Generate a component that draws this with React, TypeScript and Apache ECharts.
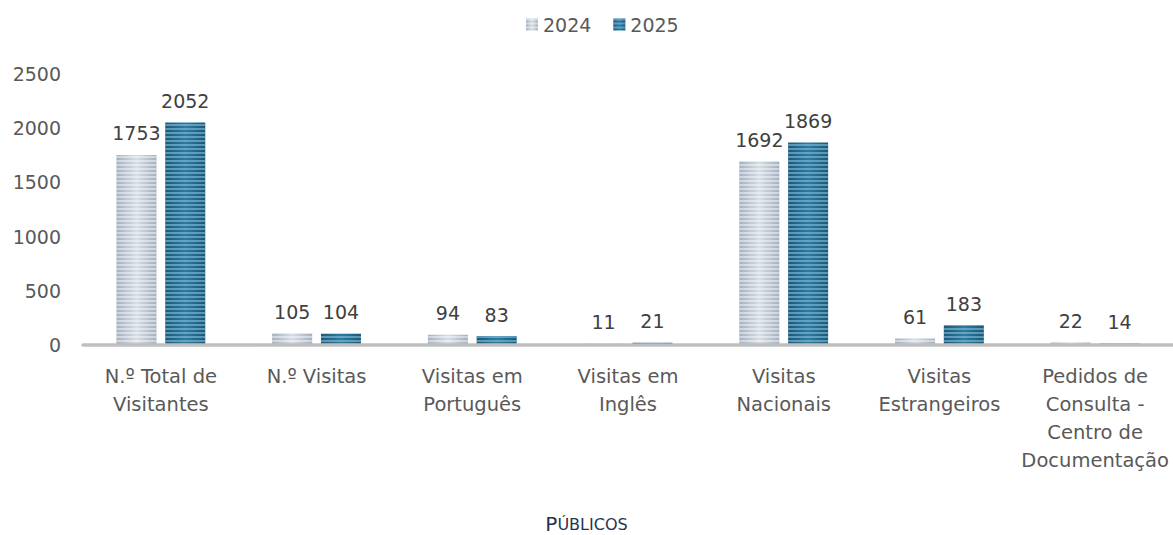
import React, { useEffect, useRef } from "react";
import * as echarts from "echarts";

const categories = [
  "N.º Total de\nVisitantes",
  "N.º Visitas",
  "Visitas em\nPortuguês",
  "Visitas em\nInglês",
  "Visitas\nNacionais",
  "Visitas\nEstrangeiros",
  "Pedidos de\nConsulta -\nCentro de\nDocumentação",
];
const values2024 = [1753, 105, 94, 11, 1692, 61, 22];
const values2025 = [2052, 104, 83, 21, 1869, 183, 14];
const seriesNames = ["2024", "2025"];
const yTicks = { min: 0, max: 2500, interval: 500 };

const FONT = "DejaVu Sans";

export default function App() {
  const ref = useRef<HTMLDivElement>(null);
  useEffect(() => {
    document.body.style.margin = "0";
    const chart = echarts.init(ref.current!, null, { renderer: "svg" });
    const grad = (edge: string, mid: string) =>
      new echarts.graphic.LinearGradient(0, 0, 1, 0, [
        { offset: 0, color: edge },
        { offset: 0.5, color: mid },
        { offset: 1, color: edge },
      ]);
    const label = {
      show: true,
      position: "top",
      distance: 12,
      fontFamily: FONT,
      fontSize: 19,
      color: "#404040",
    };
    chart.setOption({
      animation: false,
      textStyle: { fontFamily: FONT },
      legend: {
        top: 10,
        left: 521,
        icon: "rect",
        itemWidth: 12,
        itemHeight: 12,
        itemGap: 22,
        textStyle: { fontFamily: FONT, fontSize: 19, color: "#595959" },
        data: seriesNames,
      },
      title: {
        text: "{a|P}{b|ÚBLICOS}",
        left: "center",
        top: 509,
        textStyle: {
          fontWeight: "normal",
          rich: {
            a: { fontFamily: FONT, fontSize: 20, fontWeight: "normal", color: "#1f3550" },
            b: { fontFamily: FONT, fontSize: 16, fontWeight: "normal", color: "#1f3550" },
          },
        },
      },
      grid: { left: 83, right: 0, top: 74, bottom: 190 },
      xAxis: {
        type: "category",
        data: categories,
        z: 5,
        axisLine: { lineStyle: { color: "#bfbfbf", width: 3.5 } },
        axisTick: { show: false },
        axisLabel: {
          interval: 0,
          margin: 17,
          fontFamily: FONT,
          fontSize: 19.5,
          lineHeight: 28,
          color: "#595959",
        },
      },
      yAxis: {
        type: "value",
        min: yTicks.min,
        max: yTicks.max,
        interval: yTicks.interval,
        splitLine: { show: false },
        axisLine: { show: false },
        axisLabel: {
          fontFamily: FONT,
          fontSize: 19,
          color: "#595959",
          margin: 22,
          formatter: (v: number) => String(v),
        },
      },
      series: [
        {
          name: seriesNames[0],
          type: "bar",
          data: values2024,
          barWidth: 40,
          barGap: "22%",
          label,
          itemStyle: {
            color: grad("#a3b0bf", "#d6dde5"),
            decal: {
              symbol: "rect",
              symbolSize: 1,
              dashArrayX: [1, 0],
              dashArrayY: [2, 2],
              rotation: 0,
              color: "rgba(255,255,255,0.45)",
            },
          },
        },
        {
          name: seriesNames[1],
          type: "bar",
          data: values2025,
          barWidth: 40,
          barGap: "22%",
          label,
          itemStyle: {
            color: grad("#1c5877", "#2f7aa0"),
            decal: {
              symbol: "rect",
              symbolSize: 1,
              dashArrayX: [1, 0],
              dashArrayY: [2, 2],
              rotation: 0,
              color: "rgba(140,200,228,0.55)",
            },
          },
        },
      ],
    });
    return () => chart.dispose();
  }, []);
  return <div ref={ref} style={{ width: 1173, height: 535 }} />;
}
